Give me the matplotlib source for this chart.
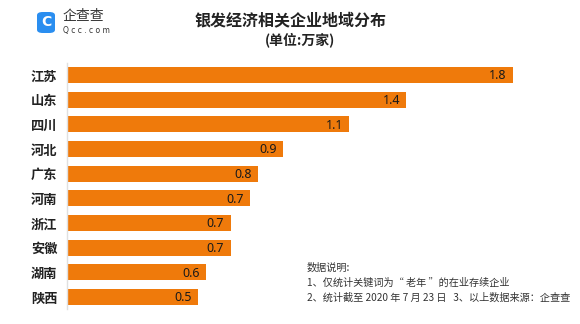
import matplotlib.pyplot as plt
from matplotlib.patches import FancyBboxPatch

plt.rcParams['font.family'] = ['Noto Sans CJK SC', 'DejaVu Sans']

provinces = ['江苏', '山东', '四川', '河北', '广东', '河南', '浙江', '安徽', '湖南', '陕西']
values = [1.80, 1.37, 1.14, 0.87, 0.77, 0.74, 0.66, 0.66, 0.56, 0.53]

title = '银发经济相关企业地域分布'
subtitle = '(单位:万家)'
notes = ['数据说明:',
         '1、仅统计关键词为“ 老年 ”的在业存续企业',
         '2、统计截至 2020 年 7 月 23 日   3、以上数据来源：企查查']

W, H = 580, 324
fig = plt.figure(figsize=(W / 100, H / 100), dpi=100)
fig.patch.set_facecolor('white')

# axes placed in pixel terms
left, right = 67, 560
top, bottom = 62.7, 309.3
ax = fig.add_axes([left / W, 1 - bottom / H, (right - left) / W, (bottom - top) / H])
ax.set_xlim(0, (right - left) / 247.8)
ax.set_ylim(len(provinces) - 0.5, -0.5)

bar_color = '#EF7A0B'
ax.barh(range(len(provinces)), values, height=0.65, color=bar_color)
for i, v in enumerate(values):
    ax.text(v - 0.025, i + 0.03, f'{v:.1f}', ha='right', va='center', fontsize=9,
            color='#1a1a1a', fontweight='medium', family=['Noto Sans'])

ax.set_yticks(range(len(provinces)))
ax.set_yticklabels(provinces, fontsize=9.5, fontweight='bold', color='#222222')
ax.tick_params(axis='y', length=0, pad=7)
ax.set_xticks([])
for s in ['top', 'right', 'bottom']:
    ax.spines[s].set_visible(False)
ax.spines['left'].set_color('#e0e0e0')
ax.spines['left'].set_linewidth(1)

# title
fig.text(291 / W, 1 - 20 / H, title, ha='center', va='center', fontsize=11.5,
         fontweight='bold', color='#222222')
fig.text(300 / W, 1 - 40 / H, subtitle, ha='center', va='center', fontsize=10,
         fontweight='bold', color='#222222')

# logo
logo = FancyBboxPatch((37 / W, 1 - 33 / H), 18 / W, 21 / H,
                      boxstyle='round,pad=0,rounding_size=0.01',
                      transform=fig.transFigure, facecolor='#2a8ef0', edgecolor='none')
fig.patches.append(logo)
fig.text(46 / W, 1 - 22.5 / H, 'C', ha='center', va='center', fontsize=10,
         fontweight='bold', color='white', family=['DejaVu Sans'])
fig.text(63 / W, 1 - 16 / H, '企查查', ha='left', va='center', fontsize=10,
         color='#333333')
fig.text(63 / W, 1 - 30 / H, 'Q c c . c o m', ha='left', va='center', fontsize=5.5,
         color='#333333', family=['DejaVu Sans'])

# notes
for k, line in enumerate(notes):
    fig.text(307 / W, 1 - (268 + 15 * k) / H, line, ha='left', va='center',
             fontsize=7.3, color='#333333')

fig.savefig('out.png', dpi=100)
